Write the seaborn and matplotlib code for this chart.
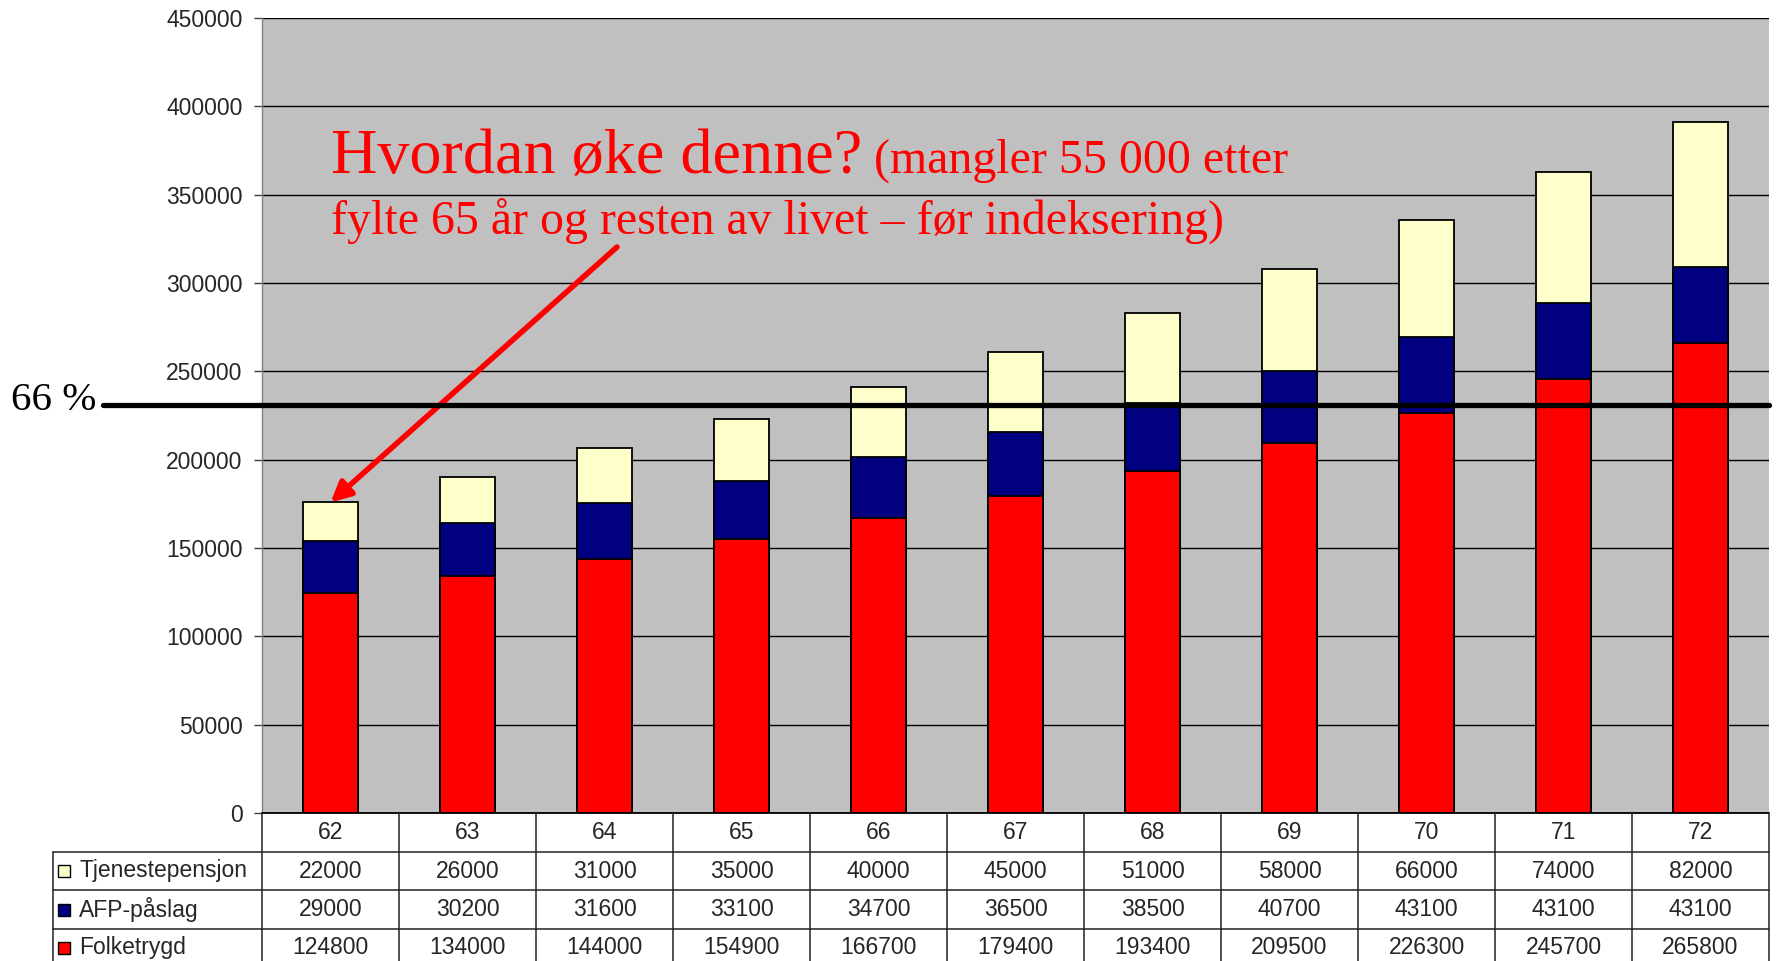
import matplotlib
matplotlib.use("Agg")
import matplotlib.pyplot as plt
import matplotlib.transforms as mtransforms
from matplotlib.patches import Rectangle
from matplotlib.lines import Line2D
import seaborn as sns
import pandas as pd

# ---------------- data ----------------
ages = ["62", "63", "64", "65", "66", "67", "68", "69", "70", "71", "72"]
tjenestepensjon = [22000, 26000, 31000, 35000, 40000, 45000, 51000, 58000, 66000, 74000, 82000]
afp_paslag = [29000, 30200, 31600, 33100, 34700, 36500, 38500, 40700, 43100, 43100, 43100]
folketrygd = [124800, 134000, 144000, 154900, 166700, 179400, 193400, 209500, 226300, 245700, 265800]
series_names = ["Tjenestepensjon", "AFP-påslag", "Folketrygd"]
series_colors = ["#FFFFCC", "#000080", "#FF0000"]
y_ticks = [0, 50000, 100000, 150000, 200000, 250000, 300000, 350000, 400000, 450000]
target_level = 231000
target_label = "66 %"
note_big = "Hvordan øke denne?"
note_small1 = " (mangler 55 000 etter"
note_small2 = "fylte 65 år og resten av livet – før indeksering)"

# ---------------- style ----------------
sns.set_theme(style="white")
plt.rcParams["font.family"] = ["Liberation Sans", "DejaVu Sans"]
FS = 16.5

W, H = 1776, 961
fig = plt.figure(figsize=(W / 100, H / 100), dpi=100)
ax = fig.add_axes([262 / W, 1 - 813 / H, (1769 - 262) / W, (813 - 18) / H])
ax.set_facecolor("#C0C0C0")

df = pd.DataFrame({"age": ages, "Tjenestepensjon": tjenestepensjon,
                   "AFP-påslag": afp_paslag, "Folketrygd": folketrygd})
df["lvl_red"] = df["Folketrygd"]
df["lvl_blue"] = df["lvl_red"] + df["AFP-påslag"]
df["lvl_yellow"] = df["lvl_blue"] + df["Tjenestepensjon"]

for col, color in [("lvl_yellow", series_colors[0]), ("lvl_blue", series_colors[1]),
                   ("lvl_red", series_colors[2])]:
    sns.barplot(data=df, x="age", y=col, color=color, saturation=1, width=0.405,
                edgecolor="black", linewidth=1.3, errorbar=None, ax=ax, zorder=3)

ax.set_ylim(0, 450000)
ax.set_xlim(-0.5, len(ages) - 0.5)
ax.set_yticks(y_ticks)
ax.set_yticklabels([str(v) for v in y_ticks], fontsize=FS)
ax.yaxis.grid(True, color="black", linewidth=1)
ax.set_axisbelow(True)
ax.tick_params(axis="y", left=True, length=5.5, width=1, color="#404040", pad=8.5)
ax.tick_params(axis="x", bottom=False, labelbottom=False)
ax.set_xlabel("")
ax.set_ylabel("")
for s in ["top", "right", "bottom"]:
    ax.spines[s].set_visible(False)
ax.spines["left"].set_color("#808080")
ax.spines["left"].set_linewidth(1)

# pixel transform (y downwards)
pix = mtransforms.Affine2D().scale(1 / W, -1 / H).translate(0, 1) + fig.transFigure
colx = mtransforms.blended_transform_factory(ax.transData, pix)

# ---------------- 66 % line ----------------
lvl_tr = mtransforms.blended_transform_factory(pix, ax.transData)
fig.add_artist(Line2D([103, 1769], [target_level, target_level], transform=lvl_tr,
                      color="black", linewidth=3.8, zorder=10))
fig.text(11 / W, 1 - 410 / H, target_label, fontsize=29.5, family="Liberation Serif",
         ha="left", va="baseline", color="black")

# ---------------- annotation ----------------
t1 = fig.text(331 / W, 1 - 173 / H, note_big, fontsize=46.2, family="Liberation Serif",
              color="red", ha="left", va="baseline", zorder=12)
fig.canvas.draw()
bb = t1.get_window_extent()
fig.text(bb.x1 / W, 1 - 173 / H, note_small1, fontsize=34.5, family="Liberation Serif",
         color="red", ha="left", va="baseline", zorder=12)
fig.text(331 / W, 1 - 235 / H, note_small2, fontsize=34.5, family="Liberation Serif",
         color="red", ha="left", va="baseline", zorder=12)
ax.annotate("", xy=(0.0, df["lvl_yellow"][0]), xycoords="data",
            xytext=(617, 247), textcoords=pix,
            arrowprops=dict(arrowstyle="-|>", color="red", lw=4, mutation_scale=30,
                            shrinkA=0, shrinkB=0),
            annotation_clip=False, zorder=12)

# ---------------- data table ----------------
line_kw = dict(color="#222222", linewidth=1.1, zorder=10)
n = len(ages)
fig.add_artist(Line2D([262, 1769], [813, 813], transform=pix, color="black", linewidth=1.3, zorder=10))
for yy in [852, 890, 929]:
    fig.add_artist(Line2D([53, 1769], [yy, yy], transform=pix, **line_kw))
fig.add_artist(Line2D([53, 53], [852, 970], transform=pix, **line_kw))
for k in range(n + 1):
    xb = k - 0.5
    fig.add_artist(Line2D([xb, xb], [813, 970], transform=colx, **line_kw))

header_y = 832.5
row_y = [871, 909.5, 947.5]
series_vals = [tjenestepensjon, afp_paslag, folketrygd]
for i, age in enumerate(ages):
    fig.text(0, 0, age, transform=colx, fontsize=FS, ha="center", va="center",
             position=(i, header_y))
for r, (name, color, vals) in enumerate(zip(series_names, series_colors, series_vals)):
    yy = row_y[r]
    fig.add_artist(Rectangle((58, yy - 6), 12, 12, transform=pix, facecolor=color,
                             edgecolor="black", linewidth=1, zorder=11))
    fig.text(79 / W, 1 - yy / H, name, fontsize=FS, ha="left", va="center")
    for i, v in enumerate(vals):
        fig.text(0, 0, str(v), transform=colx, fontsize=FS, ha="center", va="center",
                 position=(i, yy))

fig.savefig("out.png", dpi=100)
